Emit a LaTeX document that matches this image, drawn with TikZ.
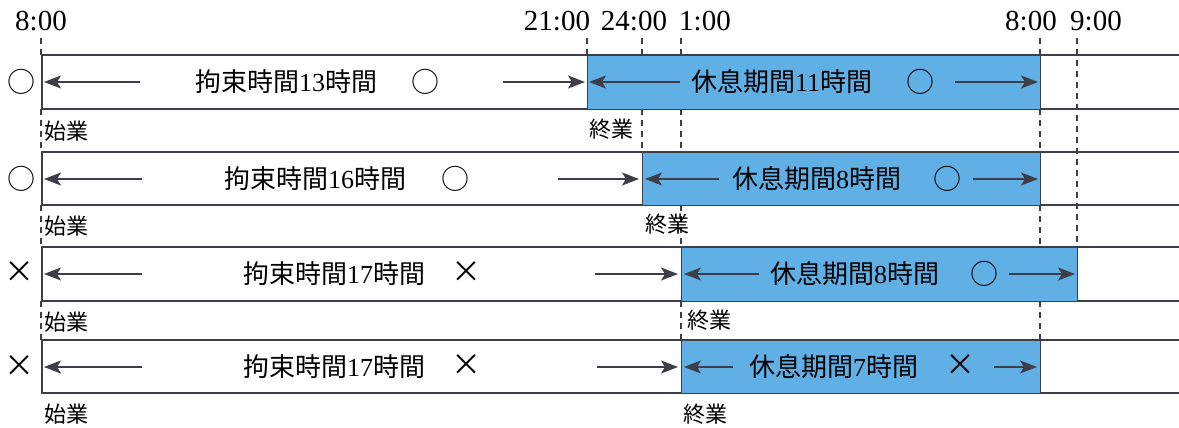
\documentclass[tikz,border=0pt]{standalone}
\usepackage{fontspec}
\setmainfont{Liberation Serif}
\newfontfamily\jp{Noto Sans CJK JP}
\usetikzlibrary{arrows.meta}
\definecolor{restblue}{RGB}{96,176,230}
\definecolor{ink}{RGB}{62,62,72}
\begin{document}
\begin{tikzpicture}[x=1pt,y=-1pt,
  frameline/.style={draw=ink, line width=1.3pt},
  restbox/.style={fill=restblue, draw=ink, line width=1.3pt, inner sep=0pt},
  guide/.style={draw=ink, line width=1.1pt, dash pattern=on 6pt off 5pt},
  harrow/.style={draw=ink, line width=1.2pt, -{Stealth[length=17pt,width=13pt,inset=4pt]}},
  timelab/.style={font=\fontsize{29}{29}\selectfont, inner sep=0pt},
  maintext/.style={font=\fontsize{26}{26}\selectfont, inner sep=0pt, anchor=west},
  markjp/.style={font=\fontsize{28}{28}\jp\selectfont, inner sep=0pt},
  markx/.style={font=\fontsize{30}{30}\jp\selectfont, inner sep=0pt},
  smalllab/.style={font=\fontsize{22}{22}\jp\selectfont, inner sep=0pt, anchor=west},
]
\useasboundingbox (0,0) rectangle (1179,428);

% ---- row frames (top, bottom, left edge) ----
\draw[frameline] (1179,55) -- (42,55) -- (42,109) -- (1179,109);
\draw[frameline] (1179,152) -- (42,152) -- (42,205) -- (1179,205);
\draw[frameline] (1179,247) -- (42,247) -- (42,301) -- (1179,301);
\draw[frameline] (1179,340) -- (42,340) -- (42,393) -- (1179,393);

% ---- rest period boxes ----
\node[restbox, anchor=north west, minimum width=453pt, minimum height=54pt] (b1) at (587,55) {};
\node[restbox, anchor=north west, minimum width=398pt, minimum height=53pt] (b2) at (642,152) {};
\node[restbox, anchor=north west, minimum width=396pt, minimum height=54pt] (b3) at (681,247) {};
\node[restbox, anchor=north west, minimum width=359pt, minimum height=53pt] (b4) at (681,340) {};

% ---- dashed guide lines ----
\foreach \y/\z in {38/55,109/152,205/247,301/340} {
  \draw[guide] (41,\y) -- (41,\z);
  \draw[guide] (681,\y) -- (681,\z);
  \draw[guide] (1040,\y) -- (1040,\z);
}
\draw[guide] (587,38) -- (587,55);
\draw[guide] (642,38) -- (642,55);
\draw[guide] (642,109) -- (642,152);
\draw[guide] (1077,38) -- (1077,247);

% ---- time labels ----
\node[timelab] (t800a) at (41,21) {8:00};
\node[timelab] (t2100) at (557,21) {21:00};
\node[timelab] (t2400) at (634,21) {24:00};
\node[timelab] (t100) at (705,21) {1:00};
\node[timelab] (t800b) at (1031,21) {8:00};
\node[timelab] (t900) at (1096,21) {9:00};

% ---- left verdict marks ----
\node[markjp] (m1) at (21,82) {○};
\node[markjp] (m2) at (21,179) {○};
\node[markx] (m3) at (20,272) {×};
\node[markx] (m4) at (20,366) {×};

% ---- row 1 ----
\node[maintext] (k1) at (195,82) {{\jp 拘束時間}13{\jp 時間}};
\node[markjp] (k1m) at (425,82) {○};
\node[maintext] (r1) at (691,82) {{\jp 休息期間}11{\jp 時間}};
\node[markjp] (r1m) at (920,82) {○};
\coordinate (a1a) at (140,82); \coordinate (a1b) at (44,82);
\coordinate (a1c) at (503,82); \coordinate (a1d) at (585,82);
\coordinate (a1e) at (680,82); \coordinate (a1f) at (589,82);
\coordinate (a1g) at (955,82); \coordinate (a1h) at (1038,82);
\draw[harrow] (a1a) -- (a1b);
\draw[harrow] (a1c) -- (a1d);
\draw[harrow] (a1e) -- (a1f);
\draw[harrow] (a1g) -- (a1h);
\node[smalllab] (s1) at (44,131) {始業};
\node[smalllab] (e1) at (589,129) {終業};

% ---- row 2 ----
\node[maintext] (k2) at (224,179) {{\jp 拘束時間}16{\jp 時間}};
\node[markjp] (k2m) at (455,179) {○};
\node[maintext] (r2) at (732,179) {{\jp 休息期間}8{\jp 時間}};
\node[markjp] (r2m) at (947,179) {○};
\coordinate (a2a) at (142,179); \coordinate (a2b) at (44,179);
\coordinate (a2c) at (558,179); \coordinate (a2d) at (639,179);
\coordinate (a2e) at (719,179); \coordinate (a2f) at (645,179);
\coordinate (a2g) at (973,179); \coordinate (a2h) at (1038,179);
\draw[harrow] (a2a) -- (a2b);
\draw[harrow] (a2c) -- (a2d);
\draw[harrow] (a2e) -- (a2f);
\draw[harrow] (a2g) -- (a2h);
\node[smalllab] (s2) at (44,226) {始業};
\node[smalllab] (e2) at (645,224) {終業};

% ---- row 3 ----
\node[maintext] (k3) at (243,274) {{\jp 拘束時間}17{\jp 時間}};
\node[markx] (k3m) at (466,272) {×};
\node[maintext] (r3) at (770,274) {{\jp 休息期間}8{\jp 時間}};
\node[markjp] (r3m) at (984,274) {○};
\coordinate (a3a) at (142,274); \coordinate (a3b) at (44,274);
\coordinate (a3c) at (595,274); \coordinate (a3d) at (678,274);
\coordinate (a3e) at (759,274); \coordinate (a3f) at (684,274);
\coordinate (a3g) at (1009,274); \coordinate (a3h) at (1075,274);
\draw[harrow] (a3a) -- (a3b);
\draw[harrow] (a3c) -- (a3d);
\draw[harrow] (a3e) -- (a3f);
\draw[harrow] (a3g) -- (a3h);
\node[smalllab] (s3) at (44,322) {始業};
\node[smalllab] (e3) at (687,320) {終業};

% ---- row 4 ----
\node[maintext] (k4) at (243,367) {{\jp 拘束時間}17{\jp 時間}};
\node[markx] (k4m) at (466,365) {×};
\node[maintext] (r4) at (749,367) {{\jp 休息期間}7{\jp 時間}};
\node[markx] (r4m) at (960,365) {×};
\coordinate (a4a) at (142,367); \coordinate (a4b) at (44,367);
\coordinate (a4c) at (597,367); \coordinate (a4d) at (678,367);
\coordinate (a4e) at (733,367); \coordinate (a4f) at (684,367);
\coordinate (a4g) at (994,367); \coordinate (a4h) at (1037,367);
\draw[harrow] (a4a) -- (a4b);
\draw[harrow] (a4c) -- (a4d);
\draw[harrow] (a4e) -- (a4f);
\draw[harrow] (a4g) -- (a4h);
\node[smalllab] (s4) at (44,414) {始業};
\node[smalllab] (e4) at (683,414) {終業};
\end{tikzpicture}
\end{document}
